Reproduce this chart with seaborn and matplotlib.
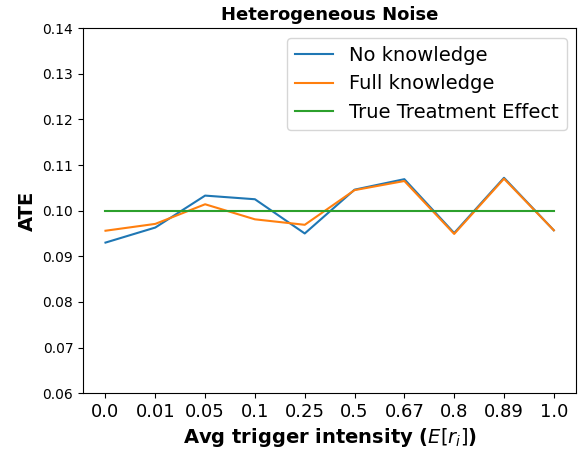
import matplotlib
matplotlib.use('AGG')
import matplotlib.pyplot as plt
import seaborn as sns
import pandas as pd

intensity = ['0.0', '0.01', '0.05', '0.1', '0.25', '0.5', '0.67', '0.8', '0.89', '1.0']
no_knowledge = [0.0930, 0.0963, 0.1033, 0.1025, 0.0950, 0.1046, 0.1069, 0.0951, 0.1072, 0.0957]
full_knowledge = [0.0956, 0.0971, 0.1014, 0.0981, 0.0969, 0.1045, 0.1065, 0.0949, 0.1070, 0.0957]
true_effect = [0.1] * len(intensity)

df = pd.DataFrame({
    'intensity': intensity * 3,
    'ATE': no_knowledge + full_knowledge + true_effect,
    'method': ['No knowledge'] * 10 + ['Full knowledge'] * 10 + ['True Treatment Effect'] * 10,
})

fig = plt.figure(figsize=(5.85, 4.54), dpi=100)
ax = fig.add_axes([0.142, 0.134, 0.843, 0.804])
sns.lineplot(data=df, x='intensity', y='ATE', hue='method', sort=False,
             palette=['#1f77b4', '#ff7f0e', '#2ca02c'], ax=ax)

ax.set_ylim(0.06, 0.14)
ax.tick_params(axis='x', labelsize=13)
ax.tick_params(axis='y', labelsize=10)
ax.set_title('Heterogeneous Noise', fontsize=13, fontweight='bold')
ax.set_ylabel('ATE', fontsize=14, fontweight='bold')
ax.set_xlabel('Avg trigger intensity ($E[r_i]$)', fontsize=14, fontweight='bold')
ax.legend(title=None, fontsize=14, loc='upper right')

plt.savefig('out.png', dpi=100)
